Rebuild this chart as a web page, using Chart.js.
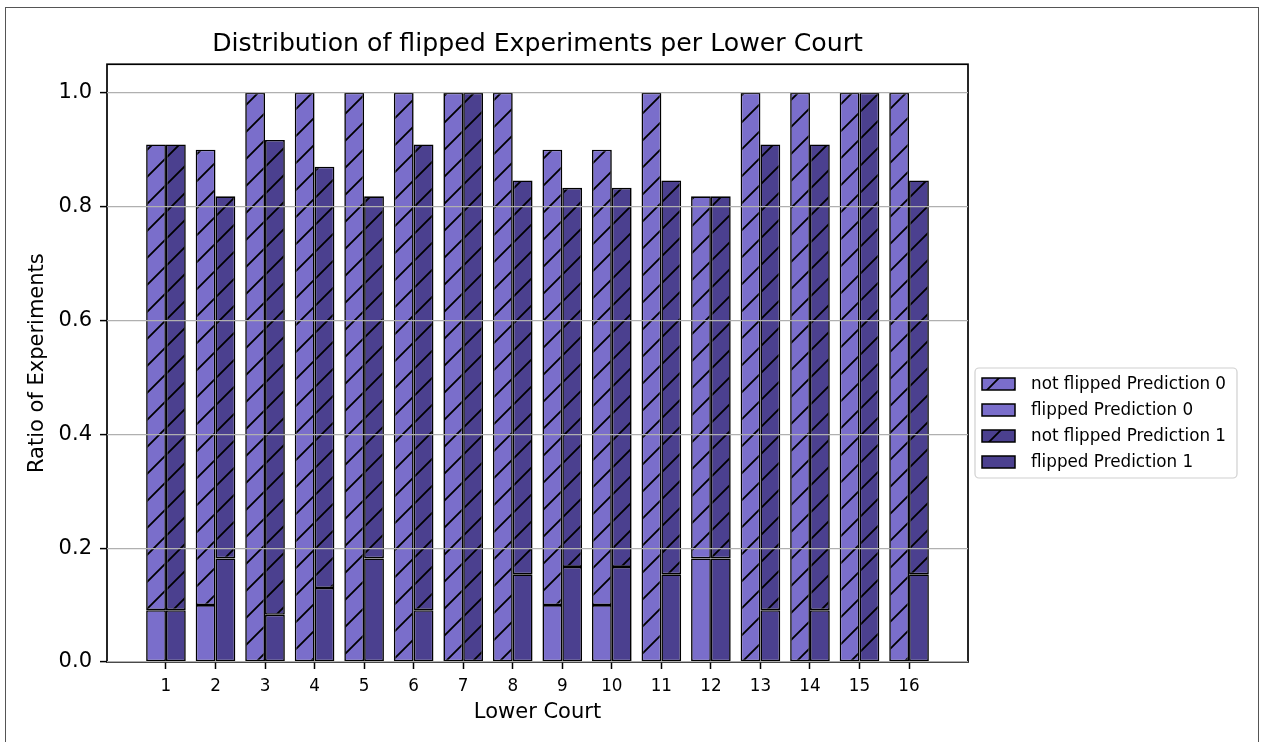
<!DOCTYPE html>
<html lang="en">
<head>
    <meta charset="UTF-8">
    <title>Distribution of flipped Experiments per Lower Court</title>
    <script src="https://cdn.jsdelivr.net/npm/chart.js"></script>
    <style>
        body {
            margin: 0;
            background: #fff;
            overflow: hidden;
        }

        .frame {
            position: absolute;
            left: 5px;
            top: 7px;
            width: 1252px;
            height: 800px;
            border: 1.5px solid #555;
            pointer-events: none;
        }

        #chart {
            position: absolute;
            left: 0;
            top: 0;
        }
    </style>
</head>
<body>
    <div class="frame"></div>
    <canvas id="chart" width="1261" height="742"></canvas>

    <script>
        // ratio of experiments per lower court, split by prediction and flip state
        const courts = [1, 2, 3, 4, 5, 6, 7, 8, 9, 10, 11, 12, 13, 14, 15, 16];
        const flippedP0 = [0.091, 0.1, 0, 0, 0, 0, 0, 0, 0.1, 0.1, 0, 0.182, 0, 0, 0, 0];
        const notFlippedP0 = [0.818, 0.8, 1, 1, 1, 1, 1, 1, 0.8, 0.8, 1, 0.636, 1, 1, 1, 1];
        const flippedP1 = [0.091, 0.182, 0.083, 0.13, 0.182, 0.091, 0, 0.154, 0.167, 0.167, 0.154, 0.182, 0.091, 0.091, 0, 0.154];
        const notFlippedP1 = [0.818, 0.636, 0.834, 0.74, 0.636, 0.818, 1, 0.692, 0.666, 0.666, 0.692, 0.636, 0.818, 0.818, 1, 0.692];
        const yTicks = [0, 0.2, 0.4, 0.6, 0.8, 1.0];

        const lightColor = '#7a6ecb';
        const darkColor = '#4b408f';

        Chart.defaults.font.family = "'DejaVu Sans', sans-serif";
        Chart.defaults.color = '#000';

        // diagonal hatch like matplotlib's '/'
        function hatch(color) {
            const size = 27;
            const c = document.createElement('canvas');
            c.width = size;
            c.height = size;
            const g = c.getContext('2d');
            g.fillStyle = color;
            g.fillRect(0, 0, size, size);
            g.strokeStyle = '#000';
            g.lineWidth = 1.8;
            g.beginPath();
            for (let k = 0; k <= 2; k++) {
                g.moveTo(-2, k * size + 2);
                g.lineTo(k * size + 2, -2);
            }
            g.stroke();
            return g.createPattern(c, 'repeat');
        }

        function bar(label, data, stack, fill) {
            return {
                label: label,
                data: data,
                stack: stack,
                backgroundColor: fill,
                borderColor: '#000',
                borderWidth: 1.6,
                borderSkipped: false,
                categoryPercentage: 0.8,
                barPercentage: 1.0
            };
        }

        // legend shown in matplotlib order: not flipped first
        const legendOrder = [1, 0, 3, 2];

        const boxLegend = {
            id: 'boxLegend',
            afterDraw(chart) {
                const ctx = chart.ctx;
                const left = 975, top = 368, w = 262, h = 110;
                ctx.save();
                ctx.beginPath();
                ctx.roundRect(left, top, w, h, 4);
                ctx.fillStyle = 'rgba(255,255,255,0.8)';
                ctx.fill();
                ctx.strokeStyle = '#d0d0d0';
                ctx.lineWidth = 1.2;
                ctx.stroke();

                ctx.font = "16.8px 'DejaVu Sans'";
                ctx.textBaseline = 'middle';
                ctx.fillStyle = '#000';
                legendOrder.forEach((idx, row) => {
                    const ds = chart.data.datasets[idx];
                    const cy = top + 16 + row * 26;
                    ctx.fillStyle = ds.backgroundColor;
                    ctx.fillRect(982, cy - 6, 33, 12);
                    ctx.strokeStyle = '#000';
                    ctx.lineWidth = 1.5;
                    ctx.strokeRect(982, cy - 6, 33, 12);
                    ctx.fillStyle = '#000';
                    ctx.fillText(ds.label, 1031, cy + 1);
                });
                ctx.restore();
            }
        };

        // full box around the plot
        const plotFrame = {
            id: 'plotFrame',
            afterDatasetsDraw(chart) {
                const {ctx, chartArea: a} = chart;
                ctx.save();
                ctx.strokeStyle = '#000';
                ctx.lineWidth = 1.7;
                ctx.strokeRect(a.left, a.top, a.right - a.left, a.bottom - a.top);
                ctx.restore();
            }
        };

        new Chart(document.getElementById('chart'), {
            type: 'bar',
            data: {
                labels: courts,
                datasets: [
                    bar('flipped Prediction 0', flippedP0, 'p0', lightColor),
                    bar('not flipped Prediction 0', notFlippedP0, 'p0', hatch(lightColor)),
                    bar('flipped Prediction 1', flippedP1, 'p1', darkColor),
                    bar('not flipped Prediction 1', notFlippedP1, 'p1', hatch(darkColor))
                ]
            },
            options: {
                responsive: false,
                animation: false,
                devicePixelRatio: 1,
                layout: { padding: { left: 0, right: 293, top: 0, bottom: 0 } },
                plugins: {
                    legend: { display: false },
                    tooltip: { enabled: false },
                    title: {
                        display: true,
                        text: 'Distribution of flipped Experiments per Lower Court',
                        fullSize: false,
                        font: { size: 25.2, weight: 'normal' },
                        color: '#000',
                        padding: { top: 29, bottom: 5 }
                    }
                },
                scales: {
                    x: {
                        type: 'linear',
                        offset: false,
                        min: courts[0] - 1.19,
                        max: courts[courts.length - 1] + 1.19,
                        afterBuildTicks: (s) => { s.ticks = courts.map(v => ({ value: v })); },
                        afterFit: (s) => { s.height = 80; },
                        ticks: { font: { size: 16.8 }, color: '#000', padding: 8, autoSkip: false, maxRotation: 0 },
                        grid: { offset: false, drawOnChartArea: false, drawTicks: true, tickLength: 7, tickWidth: 1.5, tickColor: '#000' },
                        border: { display: false },
                        title: {
                            display: true,
                            text: 'Lower Court',
                            font: { size: 21 },
                            color: '#000',
                            padding: { top: 0, bottom: 17 }
                        }
                    },
                    y: {
                        min: 0,
                        max: 1.05,
                        stacked: true,
                        afterBuildTicks: (s) => { s.ticks = yTicks.map(v => ({ value: v })); },
                        afterFit: (s) => { s.width = 107; },
                        ticks: { callback: (v) => v.toFixed(1), font: { size: 21 }, color: '#000', padding: 8 },
                        grid: { color: '#b0b0b0', lineWidth: 1.2, z: 1, tickLength: 7, tickWidth: 1.5, tickColor: '#000' },
                        border: { display: false },
                        title: {
                            display: true,
                            text: 'Ratio of Experiments',
                            font: { size: 21 },
                            color: '#000',
                            padding: { top: 25, bottom: 0 }
                        }
                    }
                }
            },
            plugins: [plotFrame, boxLegend]
        });
    </script>
</body>
</html>
